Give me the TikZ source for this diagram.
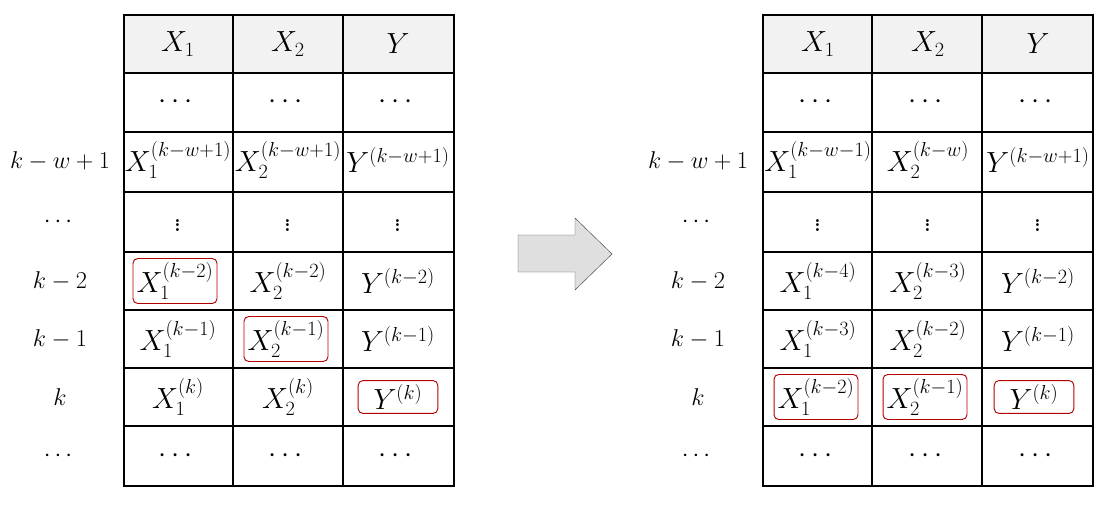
\documentclass[tikz,border=0pt]{standalone}
\usepackage{amsmath}
\usetikzlibrary{positioning}
\tikzset{cell/.style={font=\fontsize{23}{27}\selectfont, inner sep=1pt},
  vcell/.style={font=\fontsize{30}{30}\selectfont, inner sep=0pt},
  hl/.style={draw=red!70!black, thick, rounded corners=4pt, inner sep=3pt},
  rowlab/.style={font=\fontsize{20}{24}\selectfont},
  grid/.style={line width=1pt}}
\begin{document}
\begin{tikzpicture}[x=0.03cm,y=-0.03cm]
\useasboundingbox (0,0) rectangle (1113,505);
% header shading
\fill[gray!10] (124,15) rectangle (454,73);
\fill[gray!10] (763,15) rectangle (1093,73);
% grids
\foreach \xo in {124,763}{
  \draw[grid] (\xo,15) rectangle ++(330,471);
  \foreach \yy in {73,132,192,252,310,368,426}
    \draw[grid] (\xo,\yy) -- ++(330,0);
  \draw[grid] (\xo+109,15) -- ++(0,471);
  \draw[grid] (\xo+219,15) -- ++(0,471);
}
% row labels
\foreach \yy/\lab [count=\i] in {161/{$k-w+1$},222/{$\cdots$},281/{$k-2$},339/{$k-1$},397/{$k$},456/{$\cdots$}}{
  \node[rowlab] (la\i) at (60,\yy) {\lab};
  \node[rowlab] (lb\i) at (698,\yy) {\lab};
}
% left table
\node[cell] (a11) at (178,44) {$X_1$};
\node[cell] (a12) at (288,44) {$X_2$};
\node[cell] (a13) at (398,44) {$Y$};
\node[cell] (a21) at (178,102) {$\cdots$};
\node[cell] (a22) at (288,102) {$\cdots$};
\node[cell] (a23) at (398,102) {$\cdots$};
\node[cell] (a31) at (178,160) {$X_1^{(k-w+1)}$};
\node[cell] (a32) at (288,160) {$X_2^{(k-w+1)}$};
\node[cell] (a33) at (398,160) {$Y^{(k-w+1)}$};
\node[vcell] (a41) at (178,222) {$\vdots$};
\node[vcell] (a42) at (288,222) {$\vdots$};
\node[vcell] (a43) at (398,222) {$\vdots$};
\node[cell,hl] (a51) at (175,281) {$X_1^{(k-2)}$};
\node[cell] (a52) at (288,281) {$X_2^{(k-2)}$};
\node[cell] (a53) at (398,281) {$Y^{(k-2)}$};
\node[cell] (a61) at (178,339) {$X_1^{(k-1)}$};
\node[cell,hl] (a62) at (286,339) {$X_2^{(k-1)}$};
\node[cell] (a63) at (398,339) {$Y^{(k-1)}$};
\node[cell] (a71) at (178,397) {$X_1^{(k)}$};
\node[cell] (a72) at (288,397) {$X_2^{(k)}$};
\node[cell,hl,minimum width=68pt] (a73) at (398,397) {$Y^{(k)}$};
\node[cell] (a81) at (178,456) {$\cdots$};
\node[cell] (a82) at (288,456) {$\cdots$};
\node[cell] (a83) at (398,456) {$\cdots$};
% arrow
\filldraw[draw=gray!60!black, fill=gray!25] (518,235) -- (575,235) -- (575,218)
  -- (612,254) -- (575,290) -- (575,272) -- (518,272) -- cycle;
% right table
\node[cell] (b11) at (818,44) {$X_1$};
\node[cell] (b12) at (928,44) {$X_2$};
\node[cell] (b13) at (1038,44) {$Y$};
\node[cell] (b21) at (818,102) {$\cdots$};
\node[cell] (b22) at (928,102) {$\cdots$};
\node[cell] (b23) at (1038,102) {$\cdots$};
\node[cell] (b31) at (818,160) {$X_1^{(k-w-1)}$};
\node[cell] (b32) at (928,160) {$X_2^{(k-w)}$};
\node[cell] (b33) at (1038,160) {$Y^{(k-w+1)}$};
\node[vcell] (b41) at (818,222) {$\vdots$};
\node[vcell] (b42) at (928,222) {$\vdots$};
\node[vcell] (b43) at (1038,222) {$\vdots$};
\node[cell] (b51) at (818,281) {$X_1^{(k-4)}$};
\node[cell] (b52) at (928,281) {$X_2^{(k-3)}$};
\node[cell] (b53) at (1038,281) {$Y^{(k-2)}$};
\node[cell] (b61) at (818,339) {$X_1^{(k-3)}$};
\node[cell] (b62) at (928,339) {$X_2^{(k-2)}$};
\node[cell] (b63) at (1038,339) {$Y^{(k-1)}$};
\node[cell,hl] (b71) at (816,397) {$X_1^{(k-2)}$};
\node[cell,hl] (b72) at (925,397) {$X_2^{(k-1)}$};
\node[cell,hl,minimum width=68pt] (b73) at (1034,397) {$Y^{(k)}$};
\node[cell] (b81) at (818,456) {$\cdots$};
\node[cell] (b82) at (928,456) {$\cdots$};
\node[cell] (b83) at (1038,456) {$\cdots$};
\end{tikzpicture}
\end{document}
